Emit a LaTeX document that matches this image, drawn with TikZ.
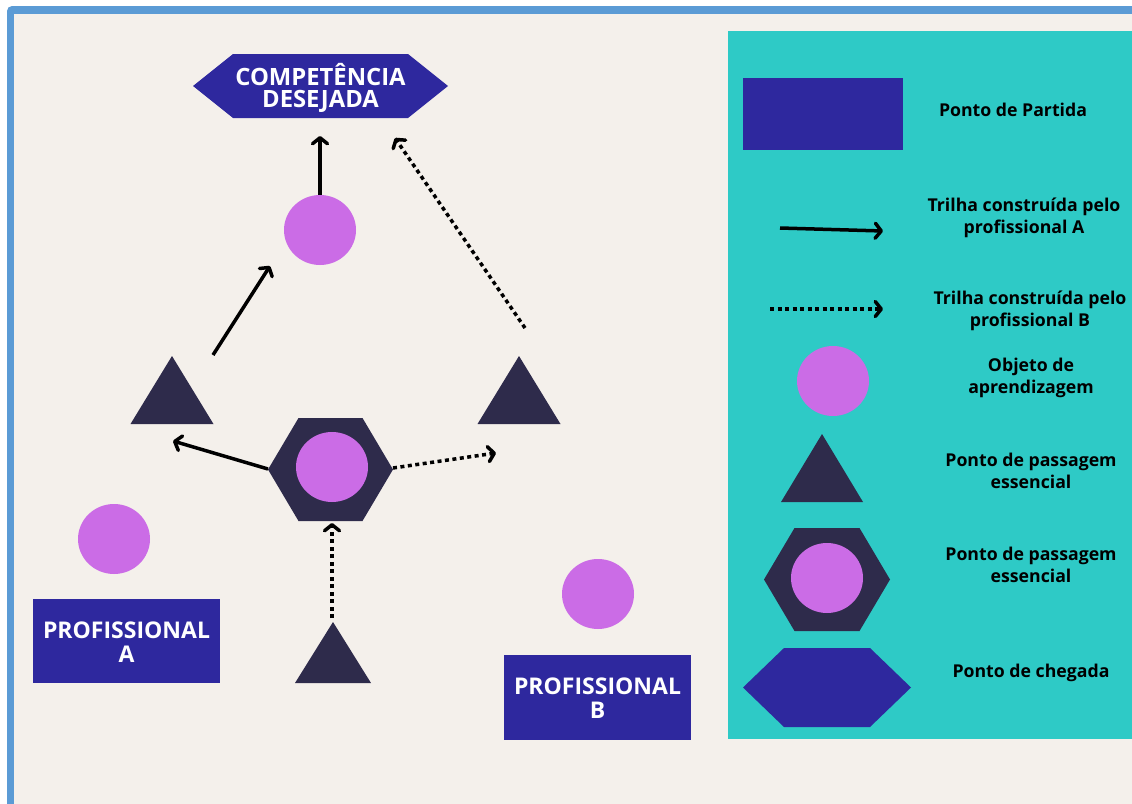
\documentclass[tikz,border=0pt]{standalone}
\usepackage{fontspec}
\setmainfont{Open Sans}
\usetikzlibrary{arrows.meta,shapes.geometric}

\definecolor{paper}{HTML}{F4F0EB}
\definecolor{frameblue}{HTML}{5B9BD5}
\definecolor{teal}{HTML}{2ECAC6}
\definecolor{indigo}{HTML}{2E289E}
\definecolor{navy}{HTML}{2E2B4B}
\definecolor{orchid}{HTML}{CB6CE6}

\tikzset{
  % hexagon pointing left and right: half width, half top edge, half height
  pics/hexa/.style n args={3}{code={
    \path[pic actions] (-#1,0) -- (-#2,-#3) -- (#2,-#3) -- (#1,0) -- (#2,#3) -- (-#2,#3) -- cycle;}},
  % triangle hanging from its apex: base width, height
  pics/tri/.style n args={2}{code={
    \path[pic actions] (0,0) -- (-#1/2,#2) -- (#1/2,#2) -- cycle;}},
  lobject/.style={ellipse, fill=orchid, minimum width=72pt, minimum height=70pt, inner sep=0pt},
  whitelabel/.style={text=white, align=center, inner sep=0pt,
    font=\bfseries\fontsize{23}{24}\selectfont},
  legendtext/.style={text=black, align=center, inner sep=0pt,
    font=\bfseries\fontsize{17.7}{22}\selectfont},
  trail/.style={line width=3.5pt, -{Straight Barb[round, length=6pt, width=15pt]}},
  trailb/.style={line width=3.5pt, dash pattern=on 4pt off 3.5pt,
    -{Straight Barb[round, length=6pt, width=15pt]}},
}

\begin{document}
\begin{tikzpicture}[x=1pt, y=-1pt]
\useasboundingbox (0,0) rectangle (1132,803);
\clip (0,0) rectangle (1132,803);

% page and frame
\fill[white] (0,0) rectangle (1132,803);
\fill[frameblue, rounded corners=5pt] (7,6) rectangle (1160,830);
\fill[paper] (14,14) rectangle (1160,830);

% ---------- legend panel ----------
\fill[teal] (728,31) rectangle (1160,739);

\fill[indigo] (743,78) rectangle (903,150);
\node[legendtext] (lgStart) at (1013,110) {Ponto de Partida};

\coordinate (lgAs) at (780,228);
\coordinate (lgAe) at (883,231);
\draw[trail] (lgAs) -- (lgAe);
\node[legendtext] (lgA) at (1024,218) {Trilha construída pelo\\profissional A};

\coordinate (lgBs) at (770,309);
\coordinate (lgBe) at (883,309);
\draw[trailb] (lgBs) -- (lgBe);
\node[legendtext] (lgB) at (1030,311) {Trilha construída pelo\\profissional B};

\node[lobject] (lgObj) at (833,381) {};
\node[legendtext] (lgObjT) at (1031,378) {Objeto de\\aprendizagem};

\pic[fill=navy] at (822,434) {tri={82}{68}};
\node[legendtext] (lgTri) at (1031,471) {Ponto de passagem\\essencial};

\pic[fill=navy] at (827,579.5) {hexa={63}{32.5}{51.5}};
\node[lobject] (lgHexObj) at (827,578) {};
\node[legendtext] (lgHex) at (1031,565) {Ponto de passagem\\essencial};

\pic[fill=indigo] at (827,687.5) {hexa={84}{43}{39.5}};
\node[legendtext] (lgEnd) at (1031,673) {Ponto de chegada};

% ---------- trails ----------
\pic[fill=indigo] at (320.5,86) {hexa={127.5}{87.5}{32}};
\node[whitelabel, font=\bfseries\fontsize{23.8}{22}\selectfont] (goal) at (320.5,88) {COMPETÊNCIA\\DESEJADA};

\node[lobject] (obj1) at (320,230) {};

\pic[fill=navy] at (172,356) {tri={83}{68}};
\pic[fill=navy] at (519,356) {tri={83}{68}};
\pic[fill=navy] at (333,622) {tri={76}{61}};

\pic[fill=navy] at (330.5,469.5) {hexa={62.5}{32}{51.5}};
\node[lobject] (obj2) at (332,467) {};

\node[lobject] (objA) at (114,539) {};
\node[lobject] (objB) at (598,594) {};

\fill[indigo] (33,599) rectangle (220,683);
\node[whitelabel] (profA) at (126.5,642) {PROFISSIONAL\\A};

\fill[indigo] (504,655) rectangle (691,740);
\node[whitelabel] (profB) at (597.5,698) {PROFISSIONAL\\B};

% arrow end points
\coordinate (goalInA) at (320,136);
\coordinate (goalInB) at (395,138);
\coordinate (triLOut) at (213,355);
\coordinate (objIn)   at (270,266);
\coordinate (triROut) at (525,328);
\coordinate (hexW)    at (268,469);
\coordinate (triLIn)  at (173,441);
\coordinate (hexE)    at (393,468);
\coordinate (triRIn)  at (496,453);
\coordinate (triBTop) at (332,618);
\coordinate (hexS)    at (332,523);

% path of professional A
\draw[trail] (hexW) -- (triLIn);
\draw[trail] (triLOut) -- (objIn);
\draw[trail] (obj1.north) -- (goalInA);

% path of professional B
\draw[trailb] (triBTop) -- (hexS);
\draw[trailb] (hexE) -- (triRIn);
\draw[trailb] (triROut) -- (goalInB);
\end{tikzpicture}
\end{document}
